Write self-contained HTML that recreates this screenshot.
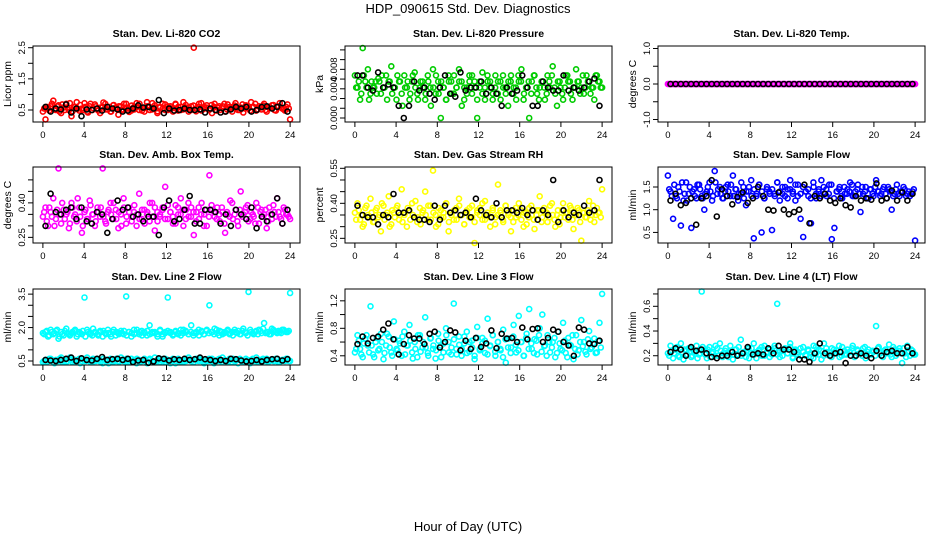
<!DOCTYPE html>
<html><head><meta charset="utf-8"><style>
html,body{margin:0;padding:0;background:#fff}
svg{display:block;font-family:"Liberation Sans",Arial,sans-serif}
</style></head><body>
<svg id="chart" width="936" height="540" viewBox="0 0 936 540" xmlns="http://www.w3.org/2000/svg">
<text x="468" y="13" text-anchor="middle" font-size="13">HDP_090615  Std. Dev. Diagnostics</text>
<text x="468" y="531" text-anchor="middle" font-size="13">Hour of Day (UTC)</text>
</svg>
<script>
const xTicks=[0,4,8,12,16,20,24];
const co2Red=[0.45,0.2,0.55,0.62,0.8,0.5,0.65,0.4,0.58,0.7,0.5,0.3,0.6,0.75,0.48,0.55,0.72,0.45,0.62,0.5,0.68,0.55,0.4,0.6,0.7,0.52,0.45,0.65,0.58,0.35,0.62,0.5,0.7,0.55,0.48,0.6,0.72,0.5,0.58,0.45,0.75,0.6,0.52,0.65,0.4,0.58,0.7,0.5,0.62,0.55,0.45,0.68,0.6,0.5,0.75,0.58,0.45,0.62,2.5,0.55,0.7,0.48,0.6,0.65,0.52,0.4,0.7,0.58,0.5,0.62,0.45,0.68,0.55,0.6,0.72,0.5,0.58,0.42,0.65,0.55,0.75,0.6,0.48,0.62,0.52,0.7,0.45,0.58,0.65,0.5,0.6,0.72,0.55,0.48,0.68,0.2];
const co2Red2=[0.55,0.6,0.48,0.7,0.52,0.62,0.45,0.68,0.5,0.58,0.72,0.46,0.6,0.54,0.66,0.5,0.6,0.42,0.7,0.56,0.62,0.48,0.58,0.74,0.52,0.6,0.45,0.66,0.55,0.62,0.5,0.7,0.58,0.44,0.64,0.52,0.6,0.7,0.48,0.56,0.62,0.5,0.72,0.58,0.46,0.6,0.54,0.68,0.5,0.62,0.56,0.7,0.48,0.6,0.52,0.66,0.58,0.5,0.64,0.46,0.6,0.72,0.54,0.58,0.5,0.66,0.6,0.48,0.62,0.56,0.7,0.52,0.6,0.45,0.64,0.58,0.5,0.68,0.55,0.62,0.48,0.6,0.7,0.52,0.58,0.64,0.5,0.6,0.56,0.66,0.48,0.62,0.58,0.52,0.6,0.55];
const co2Black=[0.6,0.45,0.55,0.52,0.68,0.42,0.55,0.3,0.52,0.5,0.55,0.48,0.6,0.55,0.52,0.45,0.48,0.55,0.65,0.58,0.6,0.55,0.82,0.4,0.55,0.48,0.5,0.55,0.5,0.5,0.52,0.42,0.55,0.5,0.42,0.45,0.52,0.6,0.55,0.6,0.45,0.5,0.6,0.62,0.55,0.6,0.72,0.45];
const presGreen=[0.007,0.005,0.003,0.0115,0.006,0.008,0.004,0.005,0.006,0.0065,0.004,0.005,0.007,0.006,0.0085,0.005,0.003,0.006,0.004,0.007,0.005,0.003,0.006,0.0075,0.004,0.005,0.006,0.003,0.007,0.005,0.008,0.004,0.006,0.0,0.005,0.003,0.007,0.006,0.004,0.005,0.008,0.006,0.003,0.005,0.007,0.004,0.006,0.0,0.005,0.0075,0.003,0.006,0.005,0.004,0.007,0.006,0.003,0.005,0.004,0.006,0.007,0.005,0.003,0.006,0.008,0.004,0.005,0.0,0.006,0.007,0.004,0.005,0.006,0.003,0.007,0.005,0.0085,0.004,0.006,0.005,0.003,0.007,0.006,0.004,0.005,0.008,0.006,0.005,0.004,0.007,0.006,0.005,0.003,0.007,0.006,0.005];
const presGreen2=[0.005,0.006,0.004,0.007,0.005,0.003,0.006,0.005,0.004,0.006,0.007,0.005,0.003,0.006,0.004,0.005,0.007,0.006,0.002,0.005,0.006,0.004,0.007,0.005,0.003,0.006,0.005,0.004,0.006,0.002,0.005,0.007,0.004,0.006,0.005,0.003,0.006,0.004,0.007,0.005,0.006,0.002,0.005,0.004,0.006,0.007,0.005,0.003,0.006,0.004,0.005,0.007,0.006,0.003,0.005,0.004,0.006,0.007,0.005,0.002,0.006,0.004,0.005,0.007,0.006,0.003,0.005,0.006,0.004,0.007,0.005,0.003,0.006,0.005,0.004,0.006,0.007,0.005,0.002,0.006,0.004,0.005,0.007,0.006,0.003,0.005,0.006,0.004,0.007,0.005,0.006,0.004,0.005,0.007,0.006,0.005];
const presBlack=[0.007,0.007,0.005,0.0045,0.0075,0.005,0.0055,0.005,0.002,0.0,0.002,0.006,0.0045,0.005,0.004,0.003,0.005,0.007,0.004,0.0035,0.0075,0.0045,0.005,0.005,0.006,0.004,0.005,0.004,0.002,0.005,0.004,0.0045,0.007,0.005,0.002,0.002,0.006,0.005,0.0045,0.0045,0.007,0.0045,0.005,0.0045,0.005,0.006,0.0065,0.002];
const tempMagenta=[0,0,0,0,0,0,0,0,0,0,0,0,0,0,0,0,0,0,0,0,0,0,0,0,0,0,0,0,0,0,0,0,0,0,0,0,0,0,0,0,0,0,0,0,0,0,0,0,0,0,0,0,0,0,0,0,0,0,0,0,0,0,0,0,0,0,0,0,0,0,0,0,0,0,0,0,0,0,0,0,0,0,0,0,0,0,0,0,0,0,0,0,0,0,0,0];
const tempMagenta2=[0,0,0,0,0,0,0,0,0,0,0,0,0,0,0,0,0,0,0,0,0,0,0,0,0,0,0,0,0,0,0,0,0,0,0,0,0,0,0,0,0,0,0,0,0,0,0,0,0,0,0,0,0,0,0,0,0,0,0,0,0,0,0,0,0,0,0,0,0,0,0,0,0,0,0,0,0,0,0,0,0,0,0,0,0,0,0,0,0,0,0,0,0,0,0,0];
const tempBlack=[0,0,0,0,0,0,0,0,0,0,0,0,0,0,0,0,0,0,0,0,0,0,0,0,0,0,0,0,0,0,0,0,0,0,0,0,0,0,0,0,0,0,0,0,0,0,0,0];
const boxMagenta=[0.34,0.38,0.3,0.36,0.42,0.33,0.55,0.31,0.37,0.35,0.29,0.4,0.34,0.32,0.38,0.27,0.36,0.33,0.41,0.35,0.3,0.38,0.34,0.55,0.32,0.36,0.4,0.33,0.37,0.29,0.35,0.42,0.31,0.38,0.34,0.36,0.3,0.44,0.33,0.37,0.35,0.32,0.4,0.28,0.36,0.34,0.38,0.47,0.33,0.36,0.31,0.39,0.35,0.42,0.3,0.37,0.34,0.38,0.26,0.36,0.33,0.4,0.35,0.3,0.52,0.37,0.34,0.38,0.32,0.36,0.27,0.35,0.41,0.33,0.37,0.3,0.45,0.35,0.38,0.32,0.36,0.34,0.4,0.31,0.37,0.35,0.29,0.38,0.33,0.36,0.42,0.34,0.31,0.37,0.35,0.33];
const boxMagenta2=[0.36,0.32,0.38,0.34,0.3,0.37,0.35,0.4,0.33,0.36,0.31,0.38,0.35,0.42,0.34,0.3,0.37,0.33,0.39,0.35,0.32,0.36,0.38,0.34,0.31,0.37,0.35,0.4,0.33,0.36,0.3,0.38,0.34,0.36,0.32,0.39,0.35,0.33,0.37,0.31,0.36,0.4,0.34,0.38,0.32,0.35,0.37,0.33,0.39,0.36,0.34,0.31,0.38,0.35,0.37,0.33,0.4,0.34,0.36,0.32,0.38,0.35,0.3,0.37,0.34,0.39,0.36,0.33,0.35,0.38,0.31,0.36,0.34,0.4,0.35,0.32,0.37,0.34,0.36,0.39,0.33,0.35,0.31,0.38,0.36,0.34,0.37,0.32,0.35,0.39,0.34,0.36,0.33,0.38,0.35,0.34];
const boxBlack=[0.3,0.44,0.36,0.35,0.37,0.38,0.33,0.38,0.32,0.31,0.36,0.35,0.27,0.33,0.41,0.37,0.38,0.34,0.35,0.32,0.34,0.34,0.26,0.38,0.41,0.32,0.33,0.37,0.43,0.31,0.31,0.37,0.37,0.36,0.31,0.35,0.3,0.37,0.35,0.33,0.38,0.29,0.34,0.32,0.35,0.42,0.31,0.37];
const rhYellow=[0.36,0.4,0.33,0.3,0.38,0.35,0.42,0.32,0.37,0.34,0.28,0.39,0.35,0.43,0.31,0.36,0.38,0.33,0.46,0.35,0.3,0.37,0.4,0.34,0.32,0.38,0.36,0.45,0.33,0.39,0.54,0.35,0.31,0.37,0.34,0.4,0.28,0.36,0.33,0.38,0.42,0.35,0.31,0.37,0.34,0.39,0.23,0.36,0.38,0.33,0.41,0.35,0.3,0.37,0.34,0.48,0.36,0.32,0.39,0.35,0.28,0.37,0.34,0.4,0.33,0.36,0.31,0.38,0.35,0.29,0.37,0.43,0.34,0.36,0.32,0.39,0.35,0.3,0.37,0.34,0.4,0.36,0.33,0.38,0.29,0.35,0.37,0.24,0.36,0.34,0.41,0.35,0.32,0.38,0.36,0.46];
const rhYellow2=[0.33,0.37,0.35,0.31,0.39,0.34,0.36,0.32,0.38,0.35,0.4,0.33,0.36,0.3,0.37,0.34,0.39,0.35,0.32,0.36,0.38,0.33,0.35,0.41,0.34,0.31,0.37,0.35,0.39,0.33,0.36,0.3,0.38,0.34,0.36,0.4,0.32,0.35,0.37,0.33,0.39,0.35,0.31,0.36,0.38,0.34,0.32,0.37,0.35,0.4,0.33,0.36,0.34,0.38,0.31,0.35,0.37,0.33,0.39,0.36,0.34,0.32,0.38,0.35,0.37,0.3,0.36,0.34,0.39,0.33,0.35,0.37,0.32,0.38,0.36,0.34,0.4,0.33,0.35,0.31,0.37,0.34,0.36,0.39,0.33,0.35,0.38,0.32,0.36,0.34,0.37,0.33,0.39,0.35,0.36,0.34];
const rhBlack=[0.39,0.35,0.34,0.34,0.31,0.35,0.34,0.44,0.36,0.36,0.37,0.34,0.33,0.33,0.32,0.39,0.33,0.39,0.36,0.37,0.35,0.36,0.34,0.42,0.37,0.35,0.34,0.4,0.34,0.37,0.37,0.36,0.38,0.35,0.37,0.33,0.37,0.35,0.5,0.32,0.37,0.34,0.36,0.35,0.39,0.36,0.37,0.5];
const flowBlue=[1.75,1.4,0.8,1.3,1.5,0.65,1.2,1.6,1.35,0.6,1.45,1.25,1.55,1.3,1.0,1.4,1.6,1.2,1.85,1.35,1.5,1.25,1.4,1.55,1.3,1.75,1.45,1.2,1.35,1.5,1.1,1.4,1.65,0.37,1.3,1.55,0.5,1.25,1.45,1.4,0.55,1.35,1.6,1.2,1.5,1.3,1.45,1.65,1.35,1.2,1.55,0.8,0.4,1.4,1.3,0.7,1.5,1.25,1.45,1.65,1.35,1.3,1.55,0.35,0.6,1.4,1.5,1.25,1.35,1.45,1.6,1.3,1.4,1.55,0.95,1.35,1.5,1.25,1.45,1.3,1.65,1.4,1.35,1.5,1.25,1.45,1.0,1.35,1.55,1.3,1.4,1.45,1.35,1.3,1.4,0.32];
const flowBlue2=[1.45,1.3,1.55,1.25,1.4,1.6,1.35,1.2,1.5,1.4,1.3,1.55,1.45,1.25,1.35,1.5,1.4,1.3,1.6,1.45,1.35,1.25,1.5,1.4,1.55,1.3,1.45,1.35,1.6,1.25,1.4,1.5,1.3,1.45,1.35,1.55,1.4,1.25,1.5,1.35,1.45,1.3,1.6,1.4,1.35,1.5,1.25,1.45,1.4,1.55,1.3,1.35,1.5,1.4,1.45,1.25,1.6,1.35,1.4,1.3,1.5,1.45,1.35,1.55,1.25,1.4,1.45,1.3,1.5,1.35,1.4,1.55,1.3,1.45,1.35,1.5,1.4,1.25,1.45,1.35,1.5,1.4,1.3,1.45,1.35,1.5,1.4,1.3,1.45,1.35,1.4,1.5,1.3,1.4,1.35,1.45];
const flowBlack=[1.2,1.35,1.1,1.15,1.25,0.67,1.25,1.3,1.65,0.85,1.45,1.3,1.12,1.28,1.38,1.15,1.25,1.5,1.3,1.0,0.98,1.38,1.0,0.9,0.95,1.0,1.55,0.7,1.3,1.25,1.35,1.2,1.15,1.25,1.1,1.05,1.3,1.2,1.25,1.22,1.58,1.2,1.25,1.42,1.2,1.38,1.2,1.35];
const line2Upper=[1.75,1.8,1.6,1.9,1.7,1.85,1.5,1.8,1.65,1.95,1.7,1.75,1.85,1.6,1.8,1.7,3.35,1.9,1.75,1.65,1.8,1.7,1.85,1.6,1.75,1.9,1.7,1.8,1.65,1.75,1.85,1.7,3.4,1.8,1.6,1.9,1.75,1.7,1.85,1.8,1.65,2.1,1.75,1.8,1.7,1.85,1.6,1.75,3.35,1.8,1.7,1.85,1.75,1.65,1.9,1.8,1.7,2.1,1.75,1.8,1.65,1.85,1.7,1.9,3.0,1.8,1.95,1.75,1.85,1.7,1.8,1.9,1.75,1.65,1.8,1.85,1.7,1.95,1.75,3.6,1.8,1.7,1.85,1.9,1.75,2.2,1.8,1.7,1.95,1.85,1.75,1.8,1.9,1.85,1.8,3.55];
const line2Upper2=[1.7,1.85,1.65,1.8,1.75,1.9,1.6,1.7,1.85,1.75,1.65,1.8,1.9,1.7,1.75,1.85,1.6,1.8,1.7,1.95,1.75,1.65,1.8,1.85,1.7,1.75,1.6,1.9,1.8,1.7,1.75,1.85,1.65,1.8,1.75,1.7,1.9,1.8,1.65,1.75,1.85,1.7,1.8,1.75,1.6,1.9,1.7,1.8,1.85,1.75,1.65,1.8,1.7,1.9,1.75,1.85,1.7,1.8,1.65,1.75,1.9,1.8,1.7,1.85,1.75,1.8,1.7,1.9,1.65,1.8,1.75,1.85,1.7,1.8,1.9,1.75,1.7,1.85,1.8,1.65,1.9,1.75,1.8,1.7,1.85,1.95,1.75,1.8,1.7,1.9,1.8,1.85,1.75,1.9,1.8,1.85];
const line2Lower=[0.45,0.55,0.5,0.6,0.45,0.55,0.5,0.65,0.5,0.45,0.6,0.55,0.5,0.45,0.6,0.5,0.55,0.65,0.5,0.45,0.55,0.6,0.5,0.4,0.55,0.5,0.6,0.45,0.55,0.5,0.65,0.5,0.45,0.55,0.6,0.5,0.4,0.55,0.5,0.6,0.45,0.55,0.5,0.65,0.5,0.45,0.55,0.6,0.5,0.4,0.55,0.5,0.6,0.45,0.55,0.5,0.65,0.5,0.45,0.55,0.6,0.5,0.4,0.55,0.5,0.6,0.45,0.55,0.5,0.65,0.5,0.45,0.55,0.6,0.5,0.4,0.55,0.5,0.6,0.45,0.55,0.5,0.65,0.5,0.45,0.55,0.6,0.5,0.55,0.5,0.6,0.45,0.55,0.5,0.6,0.5];
const line2Lower2=[0.5,0.45,0.6,0.55,0.4,0.5,0.6,0.45,0.55,0.5,0.65,0.45,0.55,0.5,0.4,0.6,0.5,0.55,0.45,0.6,0.5,0.55,0.45,0.6,0.5,0.4,0.55,0.5,0.6,0.45,0.55,0.5,0.6,0.45,0.5,0.55,0.6,0.45,0.5,0.55,0.4,0.6,0.5,0.45,0.55,0.6,0.5,0.45,0.55,0.5,0.6,0.4,0.55,0.5,0.45,0.6,0.55,0.5,0.45,0.6,0.5,0.55,0.45,0.5,0.6,0.55,0.4,0.5,0.6,0.45,0.55,0.5,0.6,0.45,0.5,0.55,0.6,0.45,0.5,0.55,0.4,0.6,0.5,0.45,0.55,0.6,0.5,0.45,0.55,0.5,0.6,0.45,0.5,0.55,0.6,0.5];
const line2Black=[0.55,0.52,0.5,0.55,0.6,0.65,0.5,0.62,0.55,0.52,0.6,0.68,0.55,0.58,0.6,0.55,0.6,0.45,0.52,0.55,0.42,0.48,0.62,0.6,0.52,0.58,0.55,0.6,0.55,0.58,0.65,0.58,0.55,0.5,0.55,0.5,0.6,0.58,0.52,0.48,0.5,0.55,0.48,0.55,0.58,0.6,0.52,0.58];
const line3Cyan=[0.45,0.7,0.5,0.38,0.65,0.55,1.12,0.42,0.6,0.48,0.72,0.35,0.55,0.68,0.45,0.9,0.5,0.62,0.4,0.75,0.55,0.85,0.45,0.6,0.38,0.7,0.52,0.96,0.44,0.65,0.5,0.36,0.72,0.55,0.45,0.8,0.6,0.42,1.16,0.5,0.68,0.4,0.58,0.75,0.46,0.62,0.35,0.82,0.5,0.66,0.44,0.94,0.55,0.7,0.4,0.6,0.48,0.78,0.3,0.65,0.52,0.85,0.45,0.98,0.6,0.4,0.72,1.08,0.5,0.64,0.42,0.8,1.0,0.55,0.7,0.45,0.6,0.38,0.75,0.5,0.88,0.44,0.66,0.55,0.35,0.7,0.48,0.92,0.6,0.42,0.76,0.52,0.65,0.45,0.88,1.3];
const line3Cyan2=[0.5,0.62,0.42,0.58,0.7,0.45,0.55,0.38,0.66,0.5,0.6,0.44,0.72,0.52,0.4,0.64,0.48,0.58,0.68,0.42,0.55,0.62,0.36,0.5,0.7,0.46,0.6,0.52,0.4,0.66,0.55,0.48,0.62,0.38,0.58,0.7,0.45,0.52,0.64,0.42,0.56,0.5,0.68,0.44,0.6,0.52,0.4,0.66,0.48,0.58,0.62,0.42,0.54,0.7,0.46,0.6,0.5,0.38,0.64,0.52,0.44,0.68,0.56,0.48,0.6,0.4,0.66,0.5,0.58,0.44,0.62,0.7,0.46,0.54,0.4,0.6,0.52,0.66,0.44,0.58,0.48,0.62,0.38,0.56,0.7,0.5,0.42,0.6,0.54,0.46,0.64,0.5,0.58,0.44,0.62,0.52];
const line3Black=[0.57,0.68,0.58,0.66,0.68,0.78,0.87,0.64,0.42,0.57,0.7,0.65,0.65,0.57,0.72,0.75,0.52,0.6,0.77,0.74,0.48,0.62,0.5,0.66,0.53,0.58,0.77,0.51,0.72,0.65,0.66,0.6,0.81,0.64,0.79,0.8,0.6,0.66,0.78,0.75,0.6,0.55,0.4,0.81,0.78,0.58,0.57,0.62];
const line4Cyan=[0.22,0.28,0.18,0.25,0.2,0.3,0.17,0.24,0.26,0.19,0.23,0.28,0.21,0.72,0.25,0.18,0.27,0.22,0.2,0.26,0.3,0.19,0.24,0.22,0.28,0.17,0.25,0.21,0.33,0.23,0.19,0.26,0.22,0.3,0.18,0.24,0.27,0.2,0.23,0.25,0.21,0.28,0.62,0.19,0.24,0.26,0.22,0.3,0.18,0.25,0.23,0.2,0.27,0.21,0.24,0.19,0.28,0.22,0.25,0.17,0.3,0.23,0.2,0.26,0.22,0.24,0.19,0.27,0.21,0.25,0.23,0.28,0.2,0.24,0.22,0.26,0.18,0.25,0.21,0.23,0.44,0.27,0.2,0.24,0.22,0.29,0.19,0.25,0.23,0.26,0.14,0.22,0.28,0.2,0.24,0.21];
const line4Cyan2=[0.2,0.24,0.22,0.27,0.19,0.23,0.25,0.21,0.26,0.2,0.24,0.18,0.22,0.27,0.21,0.25,0.19,0.23,0.28,0.2,0.24,0.22,0.26,0.19,0.23,0.21,0.25,0.27,0.2,0.22,0.24,0.18,0.26,0.21,0.23,0.25,0.2,0.28,0.22,0.19,0.24,0.26,0.21,0.23,0.2,0.25,0.22,0.27,0.19,0.24,0.21,0.26,0.23,0.2,0.25,0.22,0.18,0.27,0.21,0.24,0.2,0.26,0.23,0.19,0.25,0.22,0.28,0.2,0.24,0.21,0.23,0.26,0.19,0.25,0.22,0.2,0.27,0.23,0.21,0.24,0.2,0.26,0.22,0.19,0.25,0.23,0.21,0.27,0.2,0.24,0.22,0.26,0.19,0.23,0.25,0.21];
const line4Black=[0.23,0.26,0.25,0.2,0.27,0.24,0.25,0.22,0.19,0.18,0.2,0.2,0.23,0.2,0.22,0.27,0.21,0.22,0.21,0.26,0.22,0.28,0.25,0.25,0.23,0.17,0.17,0.15,0.22,0.3,0.22,0.2,0.22,0.23,0.14,0.2,0.2,0.22,0.2,0.18,0.24,0.2,0.23,0.24,0.22,0.22,0.27,0.22];

const co2Ticks=[0.5,1.0,1.5,2.0,2.5], co2Labels=["0.5","","1.5","","2.5"];
const presTicks=[0,0.0016,0.0032,0.0048,0.0064,0.008,0.0096,0.0112], presLabels=["0.000","","","0.004","","0.008","",""];
const tempTicks=[-1,-0.5,0,0.5,1], tempLabels=["-1.0","","0.0","","1.0"];
const boxTicks=[0.25,0.30,0.35,0.40,0.45,0.50], boxLabels=["0.25","","","0.40","",""];
const rhTicks=[0.25,0.30,0.35,0.40,0.45,0.50,0.55], rhLabels=["0.25","","","0.40","","","0.55"];
const flowTicks=[0.5,1.0,1.5], flowLabels=["0.5","1.0","1.5"];
const line2Ticks=[0.5,1.0,1.5,2.0,2.5,3.0,3.5], line2Labels=["0.5","","","2.0","","","3.5"];
const line3Ticks=[0.4,0.6,0.8,1.0,1.2], line3Labels=["0.4","","0.8","","1.2"];
const line4Ticks=[0.2,0.3,0.4,0.5,0.6,0.7], line4Labels=["0.2","","0.4","","0.6",""];

const NS="http://www.w3.org/2000/svg";
const svg=document.getElementById('chart');
const colX=[33,345,658], rowY=[46,167,289], W=267, H=76;
// series entries: [values, colour, timing] where timing 0 = on-grid, 1 = half-step offset
const panels=[
 {name:'co2',title:'Stan. Dev. Li-820 CO2',yl:'Licor ppm',c:0,r:0,ymin:0.115,ymax:2.555,ticks:co2Ticks,labels:co2Labels,series:[[co2Red,'#ff0000',0],[co2Red2,'#ff0000',1],[co2Black,'#000',1]]},
 {name:'pressure',title:'Stan. Dev. Li-820 Pressure',yl:'kPa',c:1,r:0,ymin:-0.00066,ymax:0.01184,ticks:presTicks,labels:presLabels,series:[[presGreen,'#00cc00',0],[presGreen2,'#00cc00',1],[presBlack,'#000',1]]},
 {name:'temp',title:'Stan. Dev. Li-820 Temp.',yl:'degrees C',c:2,r:0,ymin:-1.07,ymax:1.07,ticks:tempTicks,labels:tempLabels,series:[[tempMagenta,'#ff00ff',0],[tempMagenta2,'#ff00ff',1],[tempBlack,'#000',1]]},
 {name:'amb-box',title:'Stan. Dev. Amb. Box Temp.',yl:'degrees C',c:0,r:1,ymin:0.2255,ymax:0.556,ticks:boxTicks,labels:boxLabels,series:[[boxMagenta,'#ff00ff',0],[boxMagenta2,'#ff00ff',1],[boxBlack,'#000',1]]},
 {name:'rh',title:'Stan. Dev. Gas Stream RH',yl:'percent',c:1,r:1,ymin:0.23,ymax:0.5556,ticks:rhTicks,labels:rhLabels,series:[[rhYellow,'#ffff00',0],[rhYellow2,'#ffff00',1],[rhBlack,'#000',1]]},
 {name:'sample-flow',title:'Stan. Dev. Sample Flow',yl:'ml/min',c:2,r:1,ymin:0.267,ymax:1.94,ticks:flowTicks,labels:flowLabels,series:[[flowBlue,'#0000ff',0],[flowBlue2,'#0000ff',1],[flowBlack,'#000',1]]},
 {name:'line2',title:'Stan. Dev. Line 2 Flow',yl:'ml/min',c:0,r:2,ymin:0.32,ymax:3.73,ticks:line2Ticks,labels:line2Labels,series:[[line2Upper,'#00ffff',0],[line2Upper2,'#00ffff',1],[line2Lower,'#00ffff',0],[line2Lower2,'#00ffff',1],[line2Black,'#000',1]]},
 {name:'line3',title:'Stan. Dev. Line 3 Flow',yl:'ml/min',c:1,r:2,ymin:0.266,ymax:1.372,ticks:line3Ticks,labels:line3Labels,series:[[line3Cyan,'#00ffff',0],[line3Cyan2,'#00ffff',1],[line3Black,'#000',1]]},
 {name:'line4',title:'Stan. Dev. Line 4 (LT) Flow',yl:'ml/min',c:2,r:2,ymin:0.125,ymax:0.74,ticks:line4Ticks,labels:line4Labels,series:[[line4Cyan,'#00ffff',0],[line4Cyan2,'#00ffff',1],[line4Black,'#000',1]]}
];
function mk(tag,attrs,parent){const e=document.createElementNS(NS,tag);for(const k in attrs)e.setAttribute(k,attrs[k]);(parent||svg).appendChild(e);return e;}
panels.forEach(p=>{
 const L=colX[p.c], T=rowY[p.r];
 const g=mk('g',{});
 
 
 const xs=v=>L+W*(v+0.96)/25.92;
 const ys=v=>T+H*(p.ymax-v)/(p.ymax-p.ymin);
 const t=mk('text',{x:L+W/2,y:T-9,'text-anchor':'middle','font-size':'10.5','font-weight':'bold'},g);
 t.textContent=p.title;
 
 
 const yl=mk('text',{x:0,y:0,transform:`translate(${L-22},${T+H/2}) rotate(-90)`,'text-anchor':'middle','font-size':'10.5'},g);
 yl.textContent=p.yl;
 
 
 p.series.forEach(([arr,col,off])=>{
   const n=arr.length, black=(col==='#000');
   arr.forEach((v,i)=>{
     const hx=off?(i+0.5)*24/n:i*24/(n-1);
     const c=mk('circle',{cx:xs(hx).toFixed(1),cy:ys(v).toFixed(1),r:2.5,fill:'none',stroke:col,'stroke-width':1.6},g);
     
     
   });
 });
 const box=mk('rect',{x:L,y:T,width:W,height:H,fill:'none',stroke:'#000','stroke-width':1},g);
 
 
 mk('line',{x1:xs(0),x2:xs(24),y1:T+H,y2:T+H,stroke:'#000'},g);
 xTicks.forEach(v=>{
   mk('line',{x1:xs(v),x2:xs(v),y1:T+H,y2:T+H+5,stroke:'#000'},g);
   const tl=mk('text',{x:xs(v),y:T+H+16,'text-anchor':'middle','font-size':'9.5'},g);
   tl.textContent=v;
   
   
 });
 mk('line',{x1:L,x2:L,y1:ys(p.ticks[0]),y2:ys(p.ticks[p.ticks.length-1]),stroke:'#000'},g);
 p.ticks.forEach((v,i)=>{
   const y=ys(v);
   mk('line',{x1:L-5,x2:L,y1:y,y2:y,stroke:'#000'},g);
   if(p.labels[i]){
     const tl=mk('text',{x:0,y:0,transform:`translate(${L-8},${y}) rotate(-90)`,'text-anchor':'middle','font-size':'9.5'},g);
     tl.textContent=p.labels[i];
     
     
   }
 });
});
</script>
</body></html>
